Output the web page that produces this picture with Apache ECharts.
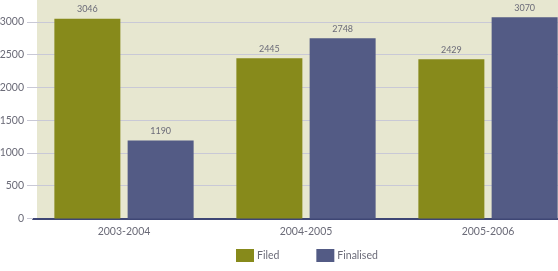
<!DOCTYPE html>
<html>
<head>
<meta charset="utf-8">
<script src="https://cdn.jsdelivr.net/npm/echarts@6/dist/echarts.min.js"></script>
<style>
  html, body { margin: 0; padding: 0; background: #fff; }
  #chart { width: 558px; height: 271px; }
</style>
</head>
<body>
<div id="chart"></div>
<script>
const years = ['2003-2004', '2004-2005', '2005-2006'];
const filed = [3046, 2445, 2429];
const finalised = [1190, 2748, 3070];
const yTicks = [0, 500, 1000, 1500, 2000, 2500, 3000];

const chart = echarts.init(document.getElementById('chart'));
const textColor = '#6b6b78';
const font = 'Lato, "Open Sans", sans-serif';

chart.setOption({
  animation: false,
  textStyle: { fontFamily: font },
  graphic: [{
    type: 'rect',
    z: -1,
    shape: { x: 37, y: 0, width: 521, height: 218.5 },
    style: { fill: '#e7e7d0' }
  }],
  // plot runs past the right edge of the picture, like the original
  grid: { left: 33, width: 546, top: -11, height: 229.5, outerBoundsMode: 'none' },
  legend: {
    top: 244,
    left: 231,
    itemWidth: 18,
    itemHeight: 13,
    itemGap: 37,
    icon: 'rect',
    textStyle: { color: textColor, fontSize: 10.5, fontFamily: font, padding: [0, 0, 0, -2] },
    data: ['Filed', 'Finalised']
  },
  xAxis: {
    type: 'category',
    data: years,
    axisLine: { show: true, lineStyle: { color: '#3e4674', width: 2 } },
    axisTick: { show: false },
    axisLabel: { color: textColor, fontSize: 10.5, margin: 8, fontFamily: font }
  },
  yAxis: {
    type: 'value',
    min: 0,
    max: 3500,
    interval: 500,
    axisLine: { show: false },
    axisTick: { show: true, length: 6, lineStyle: { color: '#c9c9d6' } },
    axisLabel: {
      color: textColor, fontSize: 10.5, margin: 9, fontFamily: font,
      formatter: v => (yTicks.indexOf(v) >= 0 ? String(v) : '')
    },
    splitLine: { lineStyle: { color: '#c9c9d6', width: 1 } }
  },
  series: [
    {
      name: 'Filed',
      type: 'bar',
      data: filed,
      barWidth: 66,
      barGap: '11%',
      itemStyle: { color: '#878a1b' },
      label: { show: true, position: 'top', distance: 5, color: textColor, fontSize: 9, fontFamily: font }
    },
    {
      name: 'Finalised',
      type: 'bar',
      data: finalised,
      barWidth: 66,
      itemStyle: { color: '#535b85' },
      label: { show: true, position: 'top', distance: 5, color: textColor, fontSize: 9, fontFamily: font }
    }
  ]
});
</script>
</body>
</html>
